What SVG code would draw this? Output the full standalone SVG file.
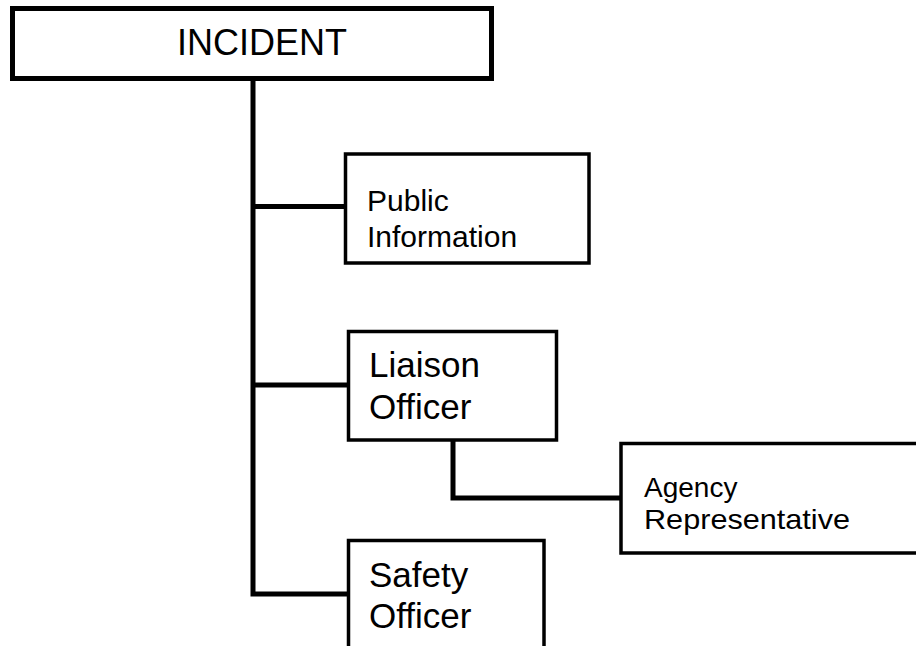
<svg xmlns="http://www.w3.org/2000/svg" width="916" height="646" viewBox="0 0 916 646">
<style>
.box{fill:#fff;stroke:#000;stroke-width:3.5}
.top{fill:#fff;stroke:#000;stroke-width:5}
.conn{fill:none;stroke:#000;stroke-width:5;stroke-linejoin:miter;stroke-linecap:butt}
text{font-family:"Liberation Sans",Arial,sans-serif;fill:#000}
</style>
<rect width="916" height="646" fill="#fff"/>
<g id="connectors">
<path class="conn" d="M253,80 V594 H348"/>
<path class="conn" d="M253,206.5 H345"/>
<path class="conn" d="M253,385 H348"/>
<path class="conn" d="M453,440 V498 H621"/>
</g>
<g id="incident">
<rect class="top" x="12.5" y="8.5" width="479" height="70"/>
<text x="262" y="55" font-size="36" text-anchor="middle">INCIDENT</text>
</g>
<g id="public-information">
<rect class="box" x="345.5" y="154" width="243.5" height="109"/>
<text x="367" y="211" font-size="30">Public</text>
<text x="367" y="247" font-size="30">Information</text>
</g>
<g id="liaison-officer">
<rect class="box" x="348.5" y="331.5" width="208" height="108.5"/>
<text x="369" y="377" font-size="35">Liaison</text>
<text x="369" y="419" font-size="35">Officer</text>
</g>
<g id="agency-representative">
<rect class="box" x="621" y="443.5" width="310" height="109.5"/>
<text x="644" y="497" font-size="28">Agency</text>
<text x="644" y="529" font-size="28" textLength="206" lengthAdjust="spacingAndGlyphs">Representative</text>
</g>
<g id="safety-officer">
<rect class="box" x="348.5" y="540.5" width="195.5" height="120"/>
<text x="369" y="587" font-size="35">Safety</text>
<text x="369" y="628" font-size="35">Officer</text>
</g>
</svg>
